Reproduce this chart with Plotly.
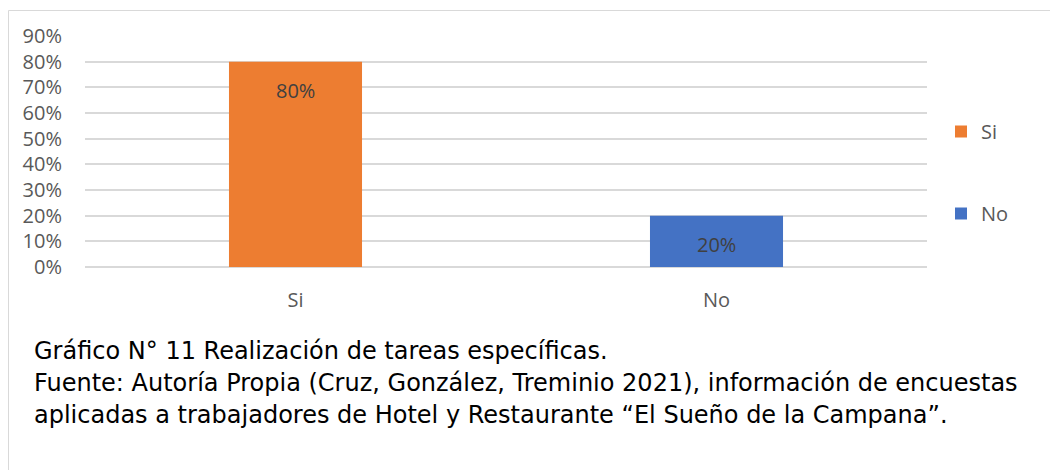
import plotly.graph_objects as go

categories = ["Si", "No"]
values = [0.80, 0.20]
colors = ["#ED7D31", "#4472C4"]
tick_vals = [0, 0.1, 0.2, 0.3, 0.4, 0.5, 0.6, 0.7, 0.8, 0.9]
tick_text = ["0%", "10%", "20%", "30%", "40%", "50%", "60%", "70%", "80%", "90%"]
caption_lines = [
    "Gráfico N° 11 Realización de tareas específicas.",
    "Fuente: Autoría Propia (Cruz, González, Treminio 2021), información de encuestas",
    "aplicadas a trabajadores de Hotel y Restaurante “El Sueño de la Campana”.",
]

# page body has an 8px margin; figure is placed at (8, 8)
OFF = 8
W, H = 1058 - OFF, 470 - OFF
L, R, T, B = 85 - OFF, 927 - OFF, 36 - OFF, 267 - OFF


def px_x(px):
    return (px - OFF - L) / (R - L)


def px_y(py):
    return (B - (py - OFF)) / (B - T)


fig = go.Figure()
for cat, val, col in zip(categories, values, colors):
    fig.add_trace(go.Bar(
        x=[cat], y=[val], name=cat, marker=dict(color=col, line=dict(width=0)),
        width=0.316, legendgroup=cat, hoverinfo="skip",
    ))
    fig.add_annotation(
        x=cat, y=val, xref="x", yref="y", text=f"{round(val*100)}%",
        showarrow=False, yanchor="top", yshift=-13,
        font=dict(family="Open Sans", size=20, color="#404040"),
    )

for i, line in enumerate(caption_lines):
    fig.add_annotation(
        x=px_x(32), y=px_y(351 + i * 32), xref="paper", yref="paper",
        text=line, showarrow=False, xanchor="left", yanchor="middle",
        font=dict(family="DejaVu Sans", size=24, color="#000000"),
    )

fig.add_shape(
    type="rect", xref="paper", yref="paper",
    x0=px_x(8.5), y0=px_y(520), x1=px_x(1100), y1=px_y(10.5),
    line=dict(color="#D9D9D9", width=1), fillcolor="rgba(0,0,0,0)", layer="below",
)

fig.update_layout(
    width=W, height=H,
    margin=dict(l=L, r=W - R, t=T, b=H - B, pad=0),
    paper_bgcolor="white", plot_bgcolor="white",
    barmode="overlay",
    showlegend=True,
    legend=dict(
        x=px_x(941), y=px_y(112), xanchor="left", yanchor="top",
        font=dict(family="Open Sans", size=20, color="#595959"),
        tracegroupgap=53, itemwidth=30, bgcolor="rgba(0,0,0,0)",
    ),
    xaxis=dict(
        categoryorder="array", categoryarray=categories,
        showgrid=False, showline=False, zeroline=False,
        ticks="", ticklabelstandoff=19,
        tickfont=dict(family="Open Sans", size=20, color="#595959"),
        fixedrange=True,
    ),
    yaxis=dict(
        range=[0, 0.9], tickvals=tick_vals, ticktext=tick_text,
        showgrid=True, gridcolor="#D9D9D9", gridwidth=1.5,
        zeroline=True, zerolinecolor="#D9D9D9", zerolinewidth=1.5,
        showline=False, ticks="", ticklabelstandoff=22,
        tickfont=dict(family="Open Sans", size=20, color="#595959"),
        fixedrange=True,
    ),
)

fig.write_html("out.html")
